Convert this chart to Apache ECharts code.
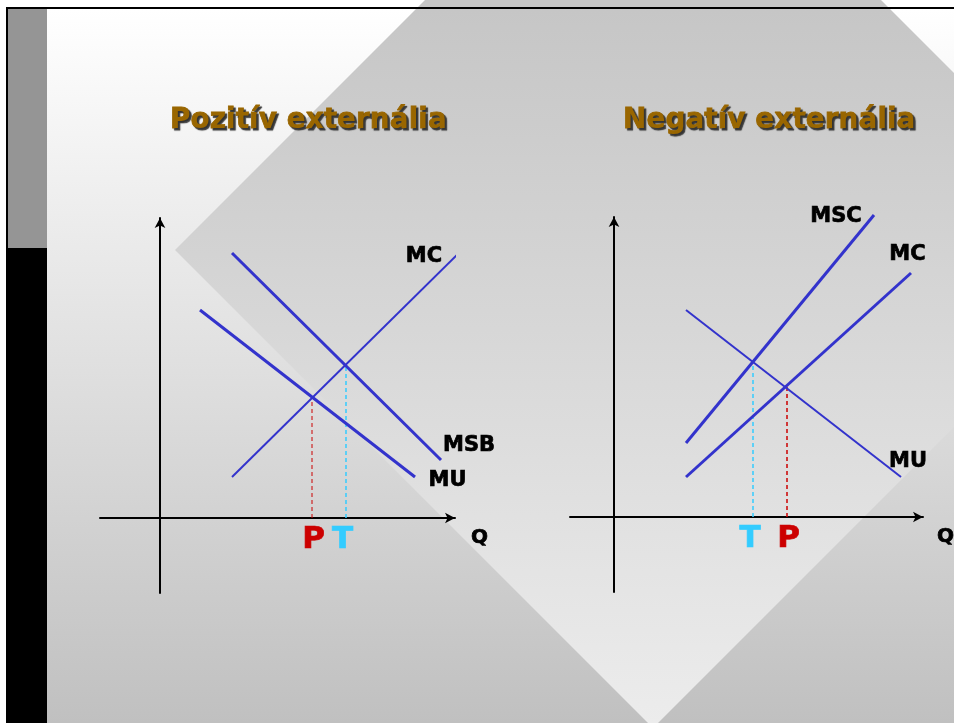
<!DOCTYPE html>
<html>
<head>
<meta charset="utf-8">
<script src="https://cdn.jsdelivr.net/npm/echarts@6/dist/echarts.min.js"></script>
<style>
html,body{margin:0;padding:0;background:#fff;}
#main{width:954px;height:723px;}
</style>
</head>
<body>
<div id="main"></div>
<script>
// ---- data (arbitrary axis units; origin = axis crossing) ----
const titles = ['Pozitív externália', 'Negatív externália'];
const leftMC  = [[7.2, 4.1], [29.9, 26.5]];
const leftMSB = [[7.2, 26.5], [28.1, 5.8]];
const leftMU  = [[4.0, 20.8], [25.5, 4.1]];
const leftP   = [[15.2, 0], [15.2, 12.1]];
const leftT   = [[18.6, 0], [18.6, 15.3]];
const rightMSC = [[7.2, 7.4], [26.0, 30.2]];
const rightMC  = [[7.2, 4.0], [29.7, 24.4]];
const rightMU  = [[7.2, 20.7], [28.7, 4.0]];
const rightT   = [[13.9, 0], [13.9, 15.3]];
const rightP   = [[17.3, 0], [17.3, 13.2]];
const axisName = 'Q';
const leftXRange = [-6, 29.5];
const rightXRange = [-4.4, 30.9];
const yRange = [-7.5, 30];

// ---- styles ----
const FONT = 'DejaVu Sans';
const BLUE = '#3333cc';
const RED = '#cc0000';
const CYAN = '#33ccff';

const chart = echarts.init(document.getElementById('main'), null, {renderer: 'canvas'});

function axisX(idx, range) {
  return {
    type: 'value', gridIndex: idx, min: range[0], max: range[1],
    axisLine: {onZero: true, lineStyle: {color: '#000', width: 2}, symbol: ['none', 'arrow'], symbolSize: [8, 10]},
    axisTick: {show: false}, axisLabel: {show: false}, splitLine: {show: false}
  };
}
function axisY(idx) {
  return {
    type: 'value', gridIndex: idx, min: yRange[0], max: yRange[1],
    axisLine: {onZero: true, lineStyle: {color: '#000', width: 2}, symbol: ['none', 'arrow'], symbolSize: [8, 10]},
    axisTick: {show: false}, axisLabel: {show: false}, splitLine: {show: false}
  };
}
function curve(idx, data, width) {
  return {type: 'line', xAxisIndex: idx, yAxisIndex: idx, data: data, symbol: 'none',
    clip: false, silent: true, lineStyle: {color: BLUE, width: width}, z: 3};
}
function dashed(idx, data, color, width) {
  return {type: 'line', xAxisIndex: idx, yAxisIndex: idx, data: data, symbol: 'none',
    clip: false, silent: true, lineStyle: {color: color, width: width, type: [4, 3]}, z: 2};
}
function lbl(name, pt, off, size, color) {
  const c = color || '#000';
  return {name: name, value: pt, label: {
    show: true, position: [0, 0], align: 'center', verticalAlign: 'middle',
    offset: off, formatter: '{b}', fontFamily: FONT, fontWeight: 'bold',
    fontSize: size || 21, color: c, textBorderColor: c, textBorderWidth: 0.7, opacity: 1}};
}
function labels(idx, items) {
  return {type: 'scatter', xAxisIndex: idx, yAxisIndex: idx, symbolSize: 1, clip: false, silent: true,
    itemStyle: {color: 'rgba(0,0,0,0)'}, z: 4, data: items};
}

const titleStyle = {fontFamily: FONT, fontWeight: 'bold', fontSize: 28, color: '#996600',
  textBorderColor: '#996600', textBorderWidth: 0.8,
  textShadowColor: '#333333', textShadowOffsetX: 2, textShadowOffsetY: 2, textShadowBlur: 1};

const option = {
  backgroundColor: '#ffffff',
  animation: false,
  graphic: [
    {type: 'rect', z: -10, shape: {x: 47, y: 9, width: 907, height: 714},
      style: {fill: new echarts.graphic.LinearGradient(0, 0, 0, 1, [{offset: 0, color: '#ffffff'}, {offset: 1, color: '#c0c0c0'}])}},
    {type: 'polygon', z: -9, shape: {points: [[175, 250], [653, -228], [1131, 250], [653, 728]]},
      style: {fill: new echarts.graphic.LinearGradient(0, 9, 0, 723, [{offset: 0, color: '#c6c6c6'}, {offset: 1, color: '#ececec'}], true)}},
    {type: 'rect', z: -8, shape: {x: 6, y: 7, width: 41, height: 716}, style: {fill: '#000'}},
    {type: 'rect', z: -7, shape: {x: 8, y: 9, width: 39, height: 239}, style: {fill: '#959595'}},
    {type: 'rect', z: -7, shape: {x: 6, y: 7, width: 948, height: 2}, style: {fill: '#000'}}
  ],
  title: [
    {text: titles[0], left: 170, top: 107, padding: 0, textStyle: titleStyle},
    {text: titles[1], left: 623, top: 107, padding: 0, textStyle: titleStyle}
  ],
  grid: [
    {left: 100, top: 218, width: 355, height: 375},
    {left: 570, top: 217, width: 353, height: 375}
  ],
  xAxis: [axisX(0, leftXRange), axisX(1, rightXRange)],
  yAxis: [axisY(0), axisY(1)],
  series: [
    dashed(0, leftP, RED, 1),
    dashed(0, leftT, CYAN, 1.5),
    curve(0, leftMC, 2),
    curve(0, leftMSB, 3),
    curve(0, leftMU, 3),
    labels(0, [
      lbl('MC', leftMC[1], [-34.5, 4]),
      lbl('MSB', leftMSB[1], [28.5, -14]),
      lbl('MU', leftMU[1], [33, 4]),
      lbl(axisName, [leftXRange[1], 0], [25, 20], 20),
      lbl('P', leftP[0], [2, 22.5], 31, RED),
      lbl('T', leftT[0], [-3, 22.5], 31, CYAN)
    ]),
    dashed(1, rightT, CYAN, 1.5),
    dashed(1, rightP, RED, 1.5),
    curve(1, rightMSC, 3),
    curve(1, rightMC, 3),
    curve(1, rightMU, 2),
    labels(1, [
      lbl('MSC', rightMSC[1], [-37.5, 2]),
      lbl('MC', rightMC[1], [-3, -18]),
      lbl('MU', rightMU[1], [7.5, -15]),
      lbl(axisName, [rightXRange[1], 0], [23, 20], 20),
      lbl('T', rightT[0], [-2.5, 22.5], 31, CYAN),
      lbl('P', rightP[0], [2, 22.5], 31, RED)
    ])
  ]
};
chart.setOption(option);
</script>
</body>
</html>
